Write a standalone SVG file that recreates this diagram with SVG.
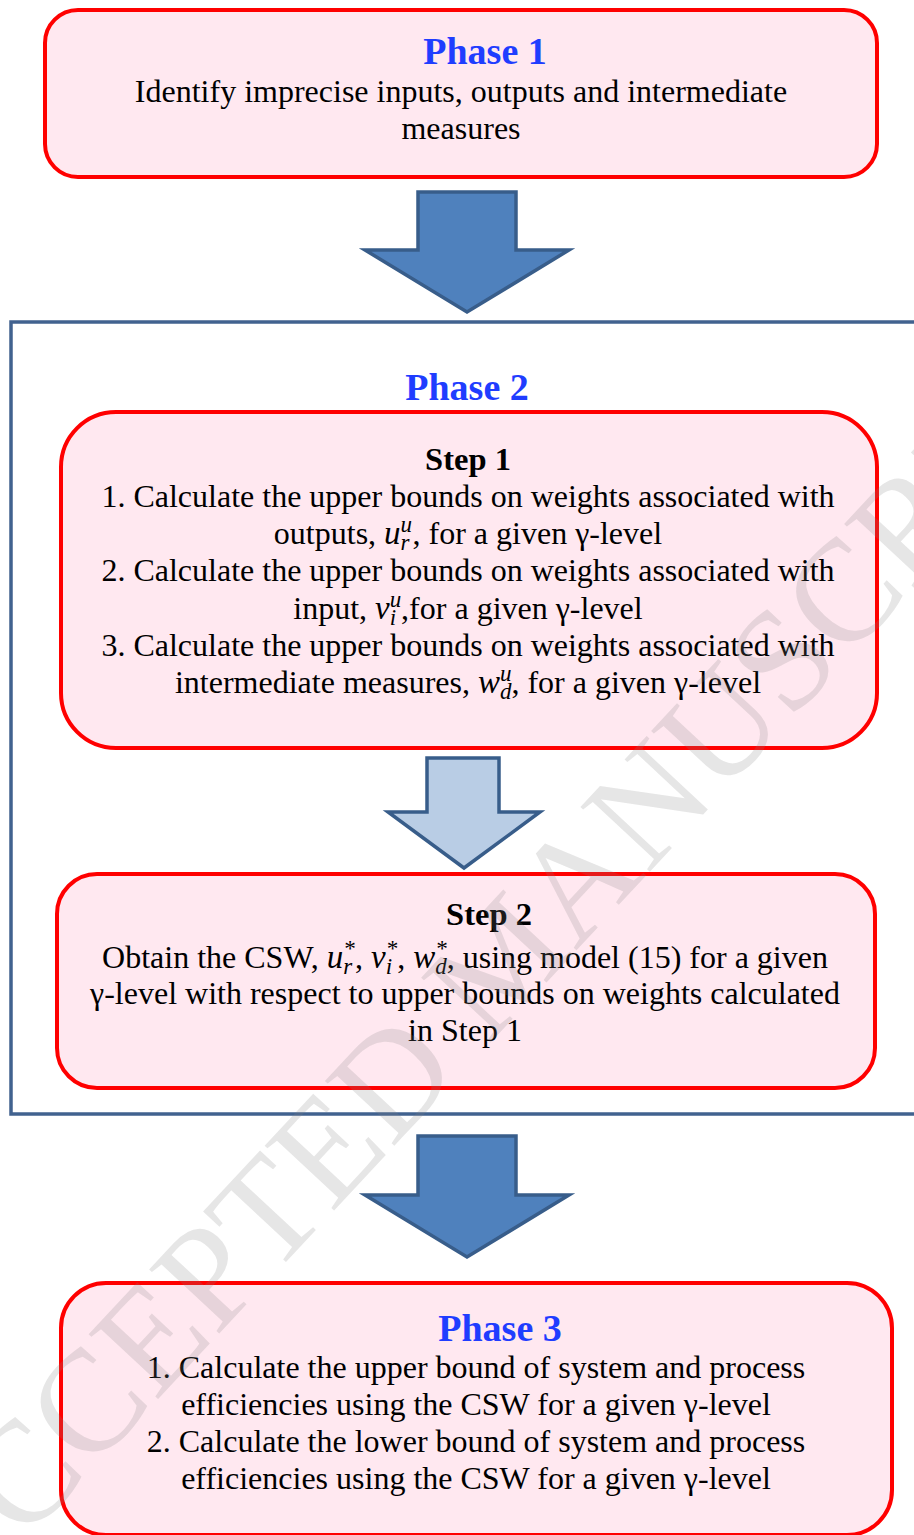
<svg xmlns="http://www.w3.org/2000/svg" width="914" height="1535" viewBox="0 0 914 1535">
<style>
.box{fill:#FFE8F0;stroke:#FF0000;stroke-width:4}
.t{font-family:"Liberation Serif","Times New Roman",serif;font-size:32px;fill:#000;text-anchor:middle}
.ph{font-family:"Liberation Serif","Times New Roman",serif;font-size:38px;font-weight:bold;fill:#1F3DFF;text-anchor:middle}
.st{font-family:"Liberation Serif","Times New Roman",serif;font-size:32.5px;font-weight:bold;fill:#000;text-anchor:middle}
.m{font-style:italic;font-size:33px}
.s{font-style:italic;font-size:23px}
.dark{fill:#4F81BD;stroke:#385D8A;stroke-width:3.5;stroke-linejoin:miter}
.light{fill:#B9CDE5;stroke:#385D8A;stroke-width:3.5;stroke-linejoin:miter}
.wm{font-family:"Liberation Serif","Times New Roman",serif;font-size:145px;fill:#808080;fill-opacity:0.2}
</style>
<rect width="914" height="1535" fill="#FFFFFF"/>

<g id="phase2-container">
<rect x="11" y="322" width="930" height="792" fill="none" stroke="#41628F" stroke-width="3.5"/>
<text class="ph" x="467" y="400">Phase 2</text>
</g>

<g id="connectors">
<polygon class="dark" points="418,192 516,192 516,250 569,250 467,312 365,250 418,250"/>
<polygon class="light" points="427,758 499,758 499,812 540,812 464,868 388,812 427,812"/>
<polygon class="dark" points="418,1136 516,1136 516,1195 569,1195 467,1257 365,1195 418,1195"/>
</g>

<g id="phase1">
<rect class="box" x="45" y="10" width="832" height="167" rx="33" ry="33"/>
<text class="ph" x="485" y="64">Phase 1</text>
<text class="t" x="461" y="102">Identify imprecise inputs, outputs and intermediate</text>
<text class="t" x="461" y="139">measures</text>
</g>

<g id="step1">
<rect class="box" x="61" y="412" width="816" height="336" rx="55" ry="55"/>
<text class="st" x="468" y="470">Step 1</text>
<text class="t" x="468" y="507">1. Calculate the upper bounds on weights associated with</text>
<text class="t" x="468" y="544">outputs, <tspan class="m">u</tspan><tspan class="s" dy="-12">u</tspan><tspan class="s" dx="-11.5" dy="18">r</tspan><tspan dy="-6" dx="3">, for a given γ-level</tspan></text>
<text class="t" x="468" y="581">2. Calculate the upper bounds on weights associated with</text>
<text class="t" x="468" y="619">input, <tspan class="m">v</tspan><tspan class="s" dy="-12">u</tspan><tspan class="s" dx="-11.5" dy="18">i</tspan><tspan dy="-6" dx="5">,for a given γ-level</tspan></text>
<text class="t" x="468" y="656">3. Calculate the upper bounds on weights associated with</text>
<text class="t" x="468" y="693">intermediate measures, <tspan class="m">w</tspan><tspan class="s" dy="-12">u</tspan><tspan class="s" dx="-11.5" dy="18">d</tspan><tspan dy="-6">, for a given γ-level</tspan></text>
</g>

<g id="step2">
<rect class="box" x="57" y="874" width="818" height="214" rx="40" ry="40"/>
<text class="st" x="489" y="925">Step 2</text>
<text class="t" x="465" y="968">Obtain the CSW, <tspan class="m">u</tspan><tspan class="s" dy="-12">*</tspan><tspan class="s" dx="-11.5" dy="18">r</tspan><tspan dy="-6" dx="3">, </tspan><tspan class="m">v</tspan><tspan class="s" dy="-12">*</tspan><tspan class="s" dx="-11.5" dy="18">i</tspan><tspan dy="-6" dx="5">, </tspan><tspan class="m">w</tspan><tspan class="s" dy="-12">*</tspan><tspan class="s" dx="-11.5" dy="18">d</tspan><tspan dy="-6">, using model (15) for a given</tspan></text>
<text class="t" x="465" y="1004">γ-level with respect to upper bounds on weights calculated</text>
<text class="t" x="465" y="1041">in Step 1</text>
</g>

<g id="phase3">
<rect class="box" x="61" y="1283" width="831" height="252" rx="45" ry="45"/>
<text class="ph" x="500" y="1341">Phase 3</text>
<text class="t" x="476" y="1378">1. Calculate the upper bound of system and process</text>
<text class="t" x="476" y="1415">efficiencies using the CSW for a given γ-level</text>
<text class="t" x="476" y="1452">2. Calculate the lower bound of system and process</text>
<text class="t" x="476" y="1489">efficiencies using the CSW for a given γ-level</text>
</g>

<text class="wm" x="-48" y="1620" transform="rotate(-47 -48 1620)">ACCEPTED MANUSCRIPT</text>
</svg>
